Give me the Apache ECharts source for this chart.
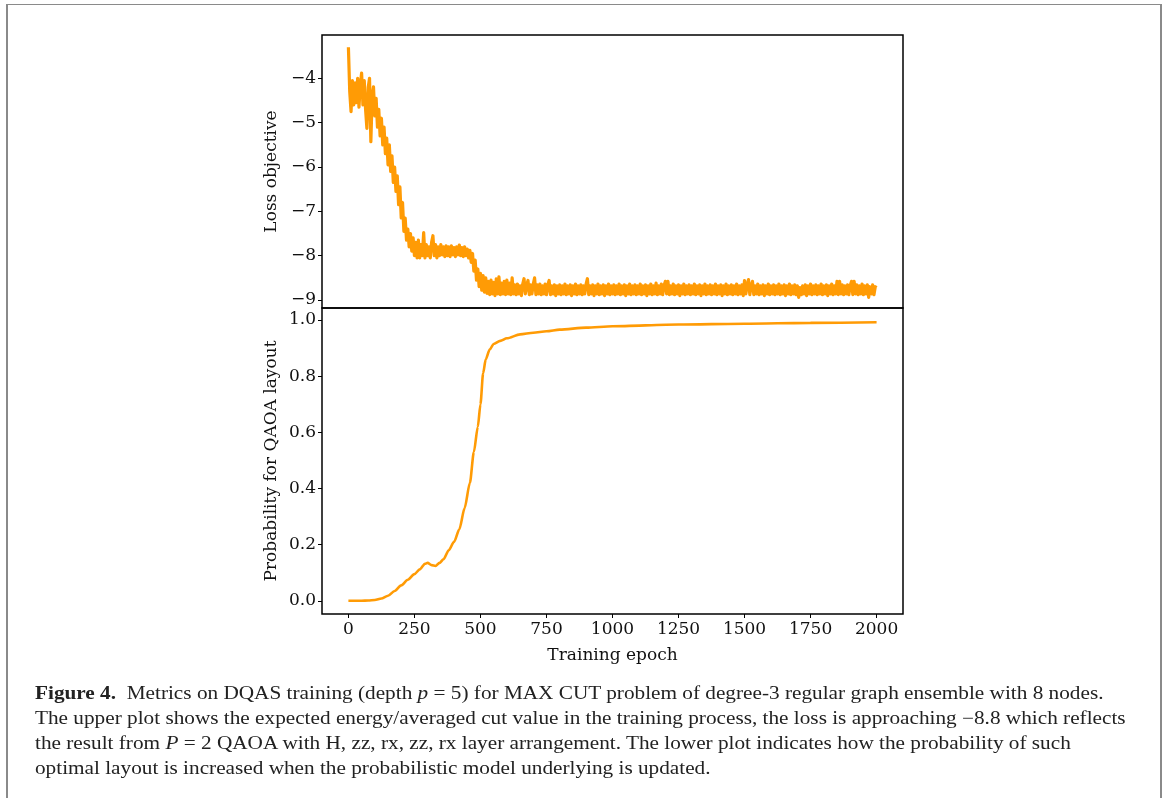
<!DOCTYPE html>
<html>
<head>
<meta charset="utf-8">
<script src="https://cdn.jsdelivr.net/npm/echarts@6/dist/echarts.min.js"></script>
<style>
  html, body { margin: 0; padding: 0; background: #fff; }
  #page { position: relative; width: 1165px; height: 798px; overflow: hidden; }
  #chart { position: absolute; left: 0; top: 0; width: 1165px; height: 798px; }
  #frame { position: absolute; left: 6px; top: 4px; width: 1152px; height: 820px;
           border-top: 1px solid #8a8a8a; border-left: 2px solid #8a8a8a; border-right: 2px solid #8a8a8a; }
  .cap { position: absolute; left: 35px; white-space: nowrap; font-family: "Liberation Serif", serif;
         font-size: 18px; color: #222; transform-origin: 0 50%; line-height: 25px; }
  .cap b { font-weight: bold; }
</style>
</head>
<body>
<div id="page">
  <div id="frame"></div>
  <div id="chart"></div>
  <div class="cap" id="cap1" style="top:681px"><b>Figure 4.</b>&nbsp;&nbsp;Metrics on DQAS training (depth <i>p</i> = 5) for MAX CUT problem of degree-3 regular graph ensemble with 8 nodes.</div>
  <div class="cap" id="cap2" style="top:706px">The upper plot shows the expected energy/averaged cut value in the training process, the loss is approaching &minus;8.8 which reflects</div>
  <div class="cap" id="cap3" style="top:731px">the result from <i>P</i> = 2 QAOA with H, zz, rx, zz, rx layer arrangement. The lower plot indicates how the probability of such</div>
  <div class="cap" id="cap4" style="top:756px">optimal layout is increased when the probabilistic model underlying is updated.</div>
</div>
<script>
// loss objective, one reading every 5 epochs (0 .. 2000)
const lossStep = 5;
const lossValues = [
  -3.30, -4.30, -4.75, -4.05, -4.60, -4.10, -4.55, -4.00, -4.65, -4.15,
  -3.88, -4.60, -4.05, -4.70, -5.13, -4.20, -4.00, -5.43, -4.40, -4.19,
  -4.85, -4.45, -5.10, -4.70, -5.30, -4.90, -5.50, -5.10, -5.70, -5.35,
  -5.95, -5.50, -6.10, -5.75, -6.35, -6.00, -6.55, -6.20, -6.85, -6.45,
  -7.15, -6.80, -7.45, -7.15, -7.65, -7.40, -7.80, -7.50, -7.90, -7.60,
  -8.00, -7.70, -8.05, -7.65, -8.05, -7.75, -8.00, -7.48, -8.05, -7.75,
  -8.00, -7.80, -8.05, -7.70, -7.55, -8.00, -7.75, -8.05, -7.80, -8.00,
  -7.75, -7.98, -7.80, -8.02, -7.78, -8.00, -7.80, -8.02, -7.78, -7.98,
  -7.82, -8.02, -7.80, -7.98, -7.76, -8.00, -7.82, -8.02, -7.80, -8.00,
  -7.85, -8.05, -7.88, -8.15, -7.95, -8.35, -8.10, -8.55, -8.30, -8.70,
  -8.40, -8.78, -8.45, -8.82, -8.50, -8.85, -8.58, -8.88, -8.55, -8.86,
  -8.60, -8.90, -8.52, -8.86, -8.48, -8.88, -8.62, -8.86, -8.58, -8.88,
  -8.55,
  -8.86, -8.62, -8.88, -8.50, -8.86, -8.66, -8.88, -8.64, -8.86, -8.68,
  -8.90, -8.64, -8.52, -8.86, -8.66, -8.56, -8.88, -8.66, -8.86, -8.64,
  -8.50, -8.88, -8.66, -8.86, -8.64, -8.88, -8.68, -8.86, -8.64, -8.88,
  -8.66, -8.56, -8.88, -8.68, -8.86, -8.66, -8.90, -8.68, -8.86, -8.66,
  -8.88, -8.68, -8.86, -8.64, -8.88, -8.68, -8.86, -8.66, -8.90, -8.68,
  -8.86, -8.64, -8.88, -8.68, -8.86, -8.66, -8.88, -8.68, -8.86, -8.64,
  -8.52, -8.88, -8.68, -8.86, -8.66, -8.90, -8.68, -8.86, -8.64, -8.88,
  -8.68, -8.86, -8.66, -8.90, -8.68, -8.86, -8.64, -8.88, -8.68, -8.86,
  -8.66, -8.88, -8.68, -8.86, -8.64, -8.88, -8.68, -8.86, -8.66, -8.90,
  -8.68, -8.86, -8.64, -8.88, -8.68, -8.86, -8.66, -8.88, -8.68, -8.86,
  -8.64, -8.88, -8.68, -8.86, -8.66, -8.90, -8.68, -8.86, -8.64, -8.88,
  -8.68, -8.86, -8.62, -8.88, -8.68, -8.86, -8.64, -8.88, -8.68, -8.58,
  -8.86, -8.58, -8.88, -8.68, -8.86, -8.64, -8.88, -8.68, -8.86, -8.66,
  -8.90, -8.68, -8.86, -8.64, -8.88, -8.68, -8.86, -8.66, -8.88, -8.68,
  -8.86, -8.64, -8.88, -8.68, -8.86, -8.66, -8.90, -8.68, -8.86, -8.64,
  -8.88, -8.68, -8.86, -8.66, -8.88, -8.68, -8.86, -8.64, -8.88, -8.68,
  -8.86, -8.66, -8.90, -8.68, -8.86, -8.64, -8.88, -8.68, -8.86, -8.66,
  -8.88, -8.68, -8.86, -8.64, -8.88, -8.68, -8.86, -8.66, -8.90, -8.56,
  -8.86, -8.66, -8.54, -8.88, -8.68, -8.58, -8.88, -8.68, -8.86, -8.64,
  -8.88, -8.68, -8.86, -8.66, -8.90, -8.68, -8.86, -8.64, -8.88, -8.68,
  -8.86, -8.66, -8.88, -8.68, -8.86, -8.64, -8.88, -8.68, -8.86, -8.66,
  -8.90, -8.68, -8.86, -8.64, -8.88, -8.68, -8.86, -8.66, -8.88, -8.68,
  -8.94, -8.72, -8.88, -8.68, -8.86, -8.66, -8.90, -8.68, -8.86, -8.64,
  -8.88, -8.68, -8.86, -8.66, -8.88, -8.68, -8.86, -8.64, -8.88, -8.68,
  -8.86, -8.66, -8.90, -8.68, -8.86, -8.64, -8.88, -8.68, -8.86, -8.58,
  -8.88, -8.58, -8.86, -8.66, -8.88, -8.68, -8.86, -8.66, -8.88, -8.68,
  -8.58, -8.88, -8.58, -8.86, -8.66, -8.88, -8.68, -8.86, -8.64, -8.88,
  -8.68, -8.86, -8.66, -8.94, -8.70, -8.86, -8.66, -8.88, -8.70, -8.72
];

// probability of the QAOA layout
const probEpochs = [0, 25, 50, 75, 100, 125, 150, 175, 200, 225, 250, 270, 290, 300, 315, 330, 345, 360, 380, 400,
  420, 440, 460, 475, 490, 500, 510, 520, 535, 550, 575, 600, 650, 700, 750, 800, 900, 1000, 1250, 1500, 1750, 2000];
const probValues = [0, 0, 0, 0.001, 0.003, 0.008, 0.018, 0.035, 0.055, 0.075, 0.095, 0.112, 0.132, 0.135, 0.127, 0.124,
  0.135, 0.148, 0.18, 0.21, 0.255, 0.33, 0.42, 0.53, 0.62, 0.70, 0.81, 0.86, 0.895, 0.915, 0.926, 0.935,
  0.949, 0.955, 0.96, 0.966, 0.973, 0.978, 0.984, 0.987, 0.99, 0.992];

const epochTicks = [0, 250, 500, 750, 1000, 1250, 1500, 1750, 2000];
const lossTicks = [-9, -8, -7, -6, -5, -4];
const probTicks = [0, 0.2, 0.4, 0.6, 0.8, 1.0];

const lossData = lossValues.map((v, i) => [i * lossStep, v]);
const probData = probEpochs.map((e, i) => [e, probValues[i]]);

const font = 'DejaVu Serif';
const orange = '#ff9b05';

function yAxisOpt(idx, name, min, max, ticks, fmt) {
  return {
    type: 'value', gridIndex: idx, min: min, max: max,
    name: name, nameLocation: 'middle', nameGap: 42, nameRotate: 90,
    nameTextStyle: { fontFamily: font, fontSize: 17, color: '#111' },
    axisLine: { show: false, onZero: false },
    splitLine: { show: false },
    axisTick: { show: true, length: 4, customValues: ticks, lineStyle: { color: '#000', width: 1 } },
    axisLabel: { customValues: ticks, margin: 6, fontFamily: font, fontSize: 17, color: '#111', formatter: fmt }
  };
}

const chart = echarts.init(document.getElementById('chart'), null, { renderer: 'canvas' });
chart.setOption({
  animation: false,
  backgroundColor: 'transparent',
  grid: [
    { left: 322, top: 35, width: 581, height: 273, show: true, borderColor: '#000', borderWidth: 1.5 },
    { left: 322, top: 308, width: 581, height: 306, show: true, borderColor: '#000', borderWidth: 1.5 }
  ],
  xAxis: [
    { type: 'value', gridIndex: 0, min: -100, max: 2100,
      axisLine: { show: false, onZero: false }, axisTick: { show: false }, axisLabel: { show: false }, splitLine: { show: false } },
    { type: 'value', gridIndex: 1, min: -100, max: 2100,
      name: 'Training epoch', nameLocation: 'middle', nameGap: 33,
      nameTextStyle: { fontFamily: font, fontSize: 17, color: '#111' },
      axisLine: { show: false, onZero: false }, splitLine: { show: false },
      axisTick: { show: true, length: 4, customValues: epochTicks, lineStyle: { color: '#000', width: 1 } },
      axisLabel: { customValues: epochTicks, margin: 7, fontFamily: font, fontSize: 17, color: '#111',
        formatter: v => String(v) } }
  ],
  yAxis: [
    yAxisOpt(0, 'Loss objective', -9.18, -3.023, lossTicks, v => String(v).replace('-', '\u2212')),
    yAxisOpt(1, 'Probability for QAOA layout', -0.047, 1.043, probTicks, v => v.toFixed(1))
  ],
  series: [
    { type: 'line', xAxisIndex: 0, yAxisIndex: 0, data: lossData, showSymbol: false,
      lineStyle: { color: orange, width: 3.2, join: 'round' } },
    { type: 'line', xAxisIndex: 1, yAxisIndex: 1, data: probData, showSymbol: false,
      smooth: 0.25, smoothMonotone: 'x',
      lineStyle: { color: orange, width: 2.6 } }
  ]
});

// caption: one horizontal squeeze for all lines, taken from the first two printed widths
const w1 = document.getElementById('cap1').getBoundingClientRect().width;
const w2 = document.getElementById('cap2').getBoundingClientRect().width;
const sx = (1073 / w1 + 1086 / w2) / 2;
['cap1', 'cap2', 'cap3', 'cap4'].forEach(id => {
  document.getElementById(id).style.transform = 'scaleX(' + sx + ')';
});
</script>
</body>
</html>
